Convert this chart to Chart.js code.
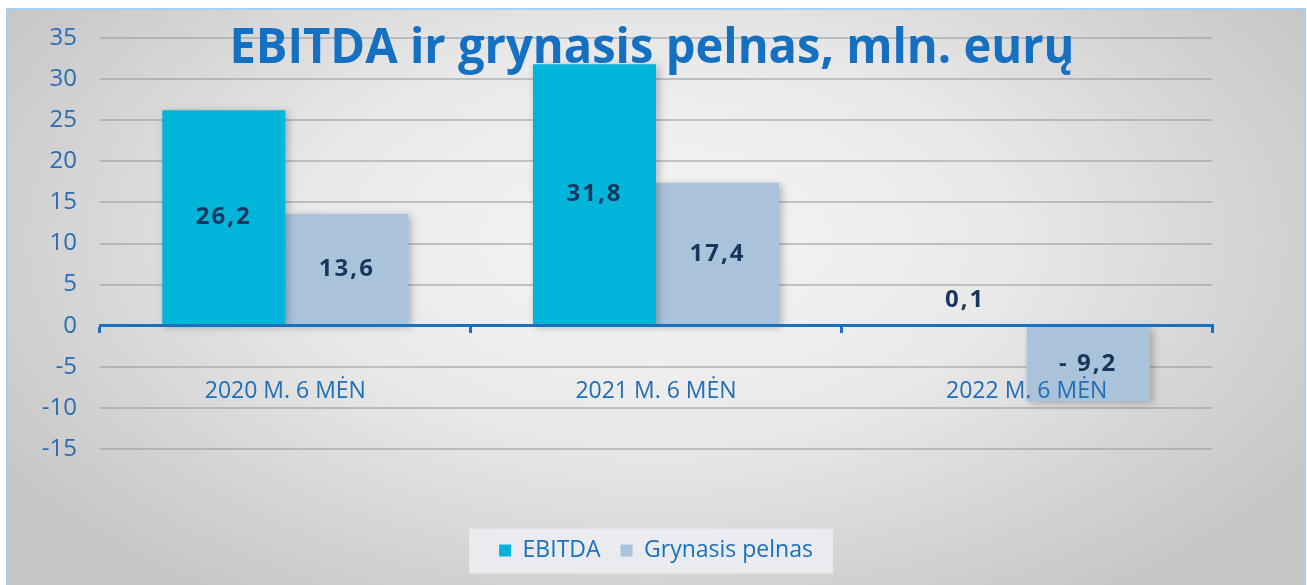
<!DOCTYPE html>
<html lang="lt">
  <head>
    <meta charset="UTF-8" />
    <title>EBITDA ir grynasis pelnas</title>
    <script src="https://cdn.jsdelivr.net/npm/chart.js"></script>
    <style>
      html, body { margin: 0; padding: 0; background: #fff; }
      .wrap { position: relative; width: 1307px; height: 585px; overflow: hidden; }
      .frame {
        position: absolute; left: 6px; top: 8px; width: 1296px; height: 580px;
        border: 2px solid #a8d0f0;
        background: radial-gradient(ellipse 60% 75% at 50% 40%, #f6f6f6 0%, #e9e9e9 45%, #d2d2d2 80%, #c6c6c6 100%);
      }
      #chart { position: absolute; left: 0; top: 0; }
      .title {
        position: absolute; left: 652px; top: 44px;
        font-family: "Open Sans", sans-serif; font-weight: 700; font-size: 49px;
        color: #1570c2; white-space: nowrap; line-height: 1;
        transform-origin: center center;
      }
    </style>
  </head>
  <body>
    <div class="wrap">
      <div class="frame"></div>
      <canvas id="chart" width="1307" height="585"></canvas>
      <div class="title" id="title">EBITDA ir grynasis pelnas, mln. eurų</div>
    </div>
    <script>
      // data
      const categories = ["2020 M. 6 MĖN", "2021 M. 6 MĖN", "2022 M. 6 MĖN"];
      const ebitda = [26.2, 31.8, 0.1];
      const grynasis = [13.6, 17.4, -9.2];
      const seriesNames = ["EBITDA", "Grynasis pelnas"];
      const yMin = -15, yMax = 35, yStep = 5;

      const blue = "#1a70c0";
      const font = "'Open Sans', sans-serif";

      // fit the title to the width it has in the picture
      const t = document.getElementById("title");
      const k = 845 / t.offsetWidth;
      t.style.transform = `translate(-50%, -50%) scaleX(${k})`;

      function fmt(v) {
        const s = Math.abs(v).toFixed(1).replace(".", ",");
        return v < 0 ? "- " + s : s;
      }

      const valueLabels = {
        id: "valueLabels",
        beforeDatasetsDraw(chart) {
          const ctx = chart.ctx;
          ctx.save();
          ctx.shadowColor = "rgba(0,0,0,0.25)";
          ctx.shadowBlur = 8;
          ctx.shadowOffsetX = 3;
          ctx.shadowOffsetY = 2;
        },
        afterDatasetsDraw(chart) {
          const ctx = chart.ctx;
          ctx.restore();
          ctx.save();
          ctx.font = "bold 24px " + font;
          ctx.fillStyle = "#17365d";
          ctx.textAlign = "center";
          ctx.textBaseline = "middle";
          ctx.letterSpacing = "2px";
          chart.data.datasets.forEach((ds, i) => {
            chart.getDatasetMeta(i).data.forEach((bar, j) => {
              const h = Math.abs(bar.base - bar.y);
              let y = (bar.y + bar.base) / 2;
              if (h < 30) y = bar.y - 25;
              ctx.fillText(fmt(ds.data[j]), bar.x, y);
            });
          });
          ctx.restore();
        }
      };

      const legendBox = {
        id: "legendBox",
        beforeDraw(chart) {
          const boxes = chart.legend.legendHitBoxes;
          if (!boxes || !boxes.length) return;
          const l = Math.min(...boxes.map(b => b.left)) - 30;
          const r = Math.max(...boxes.map(b => b.left + b.width)) + 20;
          const cy = boxes[0].top + boxes[0].height / 2;
          const ctx = chart.ctx;
          ctx.save();
          ctx.fillStyle = "rgba(236,239,242,0.85)";
          ctx.fillRect(l, cy - 22, r - l, 45);
          ctx.restore();
        }
      };

      new Chart(document.getElementById("chart"), {
        type: "bar",
        data: {
          labels: categories,
          datasets: [
            { label: seriesNames[0], data: ebitda, backgroundColor: "#00b5d9" },
            { label: seriesNames[1], data: grynasis, backgroundColor: "#abc3da" }
          ]
        },
        options: {
          responsive: false,
          animation: false,
          categoryPercentage: 0.664,
          barPercentage: 1.0,
          layout: { padding: { left: 0, right: 95, top: 38, bottom: 13 } },
          plugins: {
            title: { display: false },
            tooltip: { enabled: false },
            legend: {
              position: "bottom",
              fullSize: false,
              labels: {
                boxWidth: 12, boxHeight: 12, padding: 20,
                color: blue,
                font: { family: font, size: 23 }
              }
            }
          },
          scales: {
            y: {
              min: yMin, max: yMax,
              ticks: { stepSize: yStep, color: "#2a6db3", padding: 23, font: { family: font, size: 24 } },
              grid: { color: "rgba(150,156,162,0.55)", lineWidth: 2, drawTicks: false },
              border: { display: false },
              afterFit(s) { s.width = 100; }
            },
            x: {
              position: { y: 0 },
              grid: { z: 1, drawOnChartArea: false, drawTicks: true, tickLength: 6, color: blue, lineWidth: 3, offset: true },
              border: { z: 1, color: blue, width: 3 },
              ticks: { z: 1, color: "#1f6eb8", padding: 46, font: { family: font, size: 23 } }
            },
            x2: {
              type: "category",
              labels: [""],
              position: "bottom",
              grid: { display: false },
              border: { display: false },
              ticks: { display: false },
              afterFit(s) { s.height = 70; }
            }
          }
        },
        plugins: [valueLabels, legendBox]
      });
    </script>
  </body>
</html>
